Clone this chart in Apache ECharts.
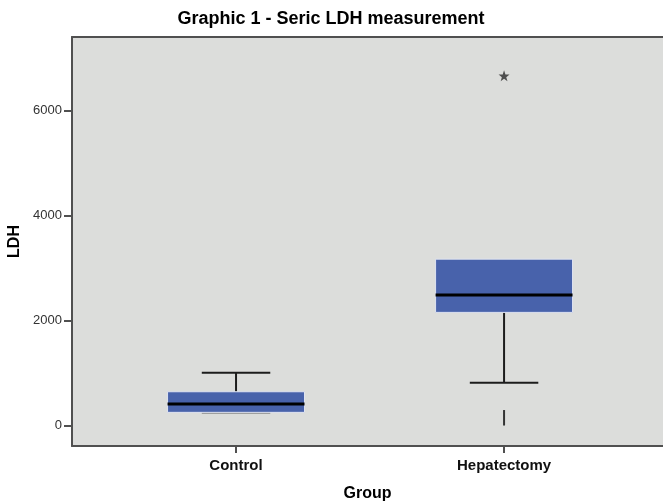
<!DOCTYPE html>
<html>
<head>
<meta charset="utf-8">
<script src="https://cdn.jsdelivr.net/npm/echarts@6/dist/echarts.min.js"></script>
<style>
  html, body { margin: 0; padding: 0; background: #ffffff; }
  #chart { width: 663px; height: 504px; }
</style>
</head>
<body>
<div id="chart"></div>
<script>
// Serum LDH by group: five-number summaries per box
const categories   = ['Control', 'Hepatectomy'];
const whiskerLow   = [244, 815];
const quartile1    = [251, 2155];
const medians      = [409, 2484];
const quartile3    = [643, 3169];
const whiskerHigh  = [1005, 3169];

// Extreme value (star) and the short low mark under the Hepatectomy whisker
const extremes     = [['Hepatectomy', 6660]];
const lowMarks     = [['Hepatectomy', 0, 295]];

const yTicks = [0, 2000, 4000, 6000];

const FONT = '"Liberation Sans", Arial, sans-serif';
const BOX_WIDTH = 0.511;      // in category units
const BOX_FILL = '#4862ab';
const BOX_EDGE = '#dfe3f1';
const INK = '#1c1c1c';
const FRAME = '#505050';

const catPos = name => categories.indexOf(name) + 1;

const boxData = categories.map((c, i) => [
  i + 1, whiskerLow[i], quartile1[i], medians[i], quartile3[i], whiskerHigh[i]
]);

function renderBox(params, api) {
  const x = api.value(0);
  const lo = api.value(1), q1 = api.value(2), med = api.value(3),
        q3 = api.value(4), hi = api.value(5);
  const cx = api.coord([x, med])[0];
  const yLo = api.coord([x, lo])[1];
  const yQ1 = api.coord([x, q1])[1];
  const yMed = api.coord([x, med])[1];
  const yQ3 = api.coord([x, q3])[1];
  const yHi = api.coord([x, hi])[1];
  const half = api.size([BOX_WIDTH, 0])[0] / 2;
  const cap = half / 2;
  const whiskerStyle = { stroke: INK, lineWidth: 2 };
  const children = [];
  if (hi > q3) {
    children.push({ type: 'line', shape: { x1: cx, y1: yQ3, x2: cx, y2: yHi }, style: whiskerStyle });
    children.push({ type: 'line', shape: { x1: cx - cap, y1: yHi, x2: cx + cap, y2: yHi }, style: whiskerStyle });
  }
  if (lo < q1) {
    // a cap that hugs the box edge is drawn softer so it reads as an edge line
    const hugging = (yLo - yQ1) < 3;
    children.push({ type: 'line', shape: { x1: cx, y1: yQ1, x2: cx, y2: yLo }, style: whiskerStyle });
    children.push({ type: 'line', shape: { x1: cx - cap, y1: yLo, x2: cx + cap, y2: yLo },
      style: hugging ? { stroke: '#8a8a8a', lineWidth: 2 } : whiskerStyle });
  }
  children.push({
    type: 'rect',
    shape: { x: cx - half, y: yQ3, width: half * 2, height: yQ1 - yQ3 },
    style: { fill: BOX_FILL, stroke: BOX_EDGE, lineWidth: 1 }
  });
  children.push({
    type: 'line',
    shape: { x1: cx - half, y1: yMed, x2: cx + half, y2: yMed },
    style: { stroke: '#000000', lineWidth: 3 }
  });
  return { type: 'group', children };
}

function renderLowMark(params, api) {
  const x = api.value(0);
  const a = api.coord([x, api.value(1)]);
  const b = api.coord([x, api.value(2)]);
  return {
    type: 'line',
    shape: { x1: a[0], y1: a[1], x2: b[0], y2: b[1] },
    style: { stroke: '#333333', lineWidth: 2 }
  };
}

const STAR = 'path://M0,-10 L2.35,-3.24 L9.51,-3.09 L3.8,1.24 L5.88,8.09 L0,4 L-5.88,8.09 L-3.8,1.24 L-9.51,-3.09 L-2.35,-3.24 Z';

const chart = echarts.init(document.getElementById('chart'), null, { renderer: 'canvas' });

chart.setOption({
  animation: false,
  backgroundColor: '#ffffff',
  title: {
    text: 'Graphic 1 - Seric LDH measurement',
    left: 326,
    top: 5,
    textAlign: 'center',
    textStyle: { fontFamily: FONT, fontSize: 18, fontWeight: 'bold', color: '#000000' }
  },
  grid: {
    left: 72, right: 0, top: 37, bottom: 58,
    containLabel: false,
    outerBoundsMode: 'none',
    show: true, backgroundColor: '#dcdddb', borderWidth: 0
  },
  xAxis: [
    {
      type: 'value',
      min: 0.388, max: 2.593,
      position: 'bottom',
      name: 'Group',
      nameLocation: 'middle',
      nameGap: 40,
      nameTextStyle: { fontFamily: FONT, fontSize: 16, fontWeight: 'bold', color: '#000000' },
      axisLine: { show: true, onZero: false, lineStyle: { color: FRAME, width: 2 } },
      axisTick: { show: true, length: 7, customValues: [1, 2], lineStyle: { color: FRAME, width: 2 } },
      axisLabel: {
        customValues: [1, 2],
        formatter: v => categories[Math.round(v) - 1] || '',
        margin: 12,
        fontFamily: FONT, fontSize: 15, fontWeight: 'bold', color: '#111111'
      },
      splitLine: { show: false }
    },
    {
      type: 'value',
      min: 0.388, max: 2.593,
      position: 'top',
      axisLine: { show: true, onZero: false, lineStyle: { color: FRAME, width: 2 } },
      axisTick: { show: false },
      axisLabel: { show: false },
      splitLine: { show: false }
    }
  ],
  yAxis: {
    type: 'value',
    min: -390, max: 7400,
    name: 'LDH',
    nameLocation: 'middle',
    nameGap: 42,
    nameTextStyle: { fontFamily: FONT, fontSize: 16, fontWeight: 'bold', color: '#000000' },
    axisLine: { show: true, onZero: false, lineStyle: { color: FRAME, width: 2 } },
    axisTick: { show: true, length: 8, customValues: yTicks, lineStyle: { color: FRAME, width: 2 } },
    axisLabel: {
      customValues: yTicks,
      formatter: v => String(v),
      margin: 10,
      fontFamily: FONT, fontSize: 13, color: '#333333'
    },
    splitLine: { show: false }
  },
  series: [
    {
      type: 'custom',
      name: 'LDH',
      renderItem: renderBox,
      encode: { x: 0, y: [1, 2, 3, 4, 5] },
      data: boxData,
      z: 2
    },
    {
      type: 'custom',
      name: 'low marks',
      renderItem: renderLowMark,
      encode: { x: 0, y: [1, 2] },
      data: lowMarks.map(d => [catPos(d[0]), d[1], d[2]]),
      z: 2
    },
    {
      type: 'scatter',
      name: 'extremes',
      symbol: STAR,
      symbolSize: 11,
      itemStyle: { color: '#2a2a2a' },
      data: extremes.map(d => [catPos(d[0]), d[1]]),
      z: 3
    }
  ]
});
</script>
</body>
</html>
